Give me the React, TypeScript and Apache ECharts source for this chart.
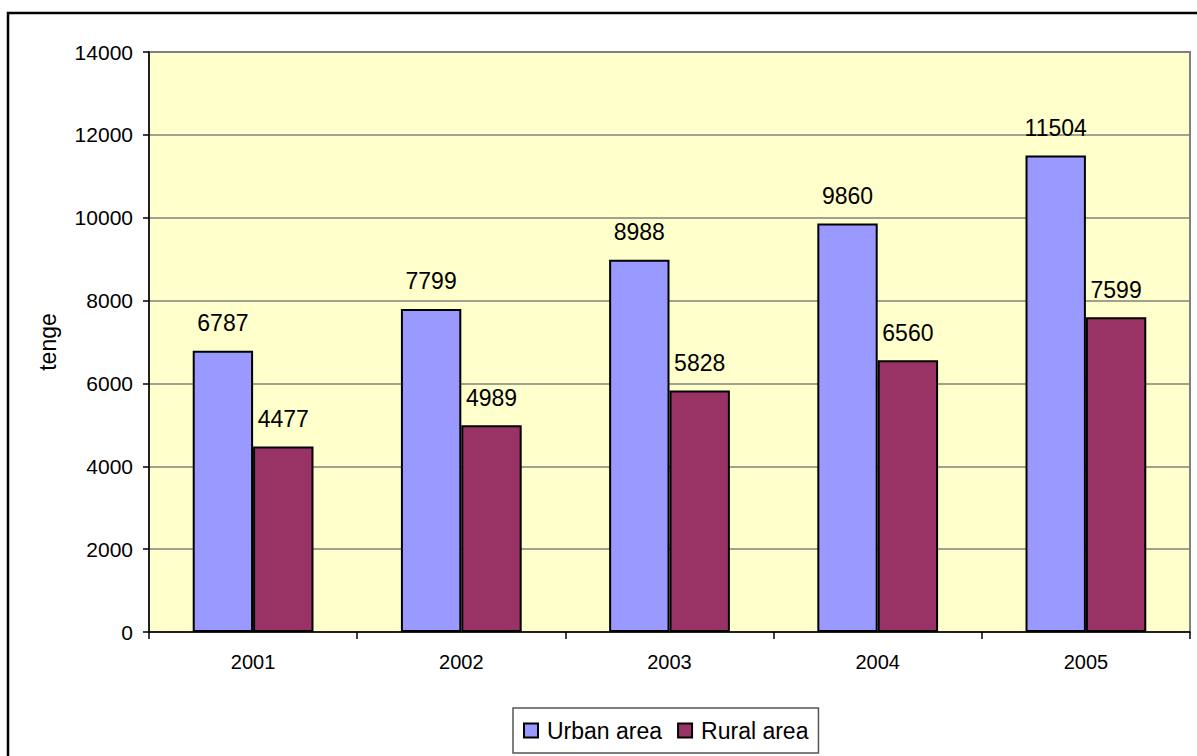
import React, { useEffect, useRef } from "react";
import * as echarts from "echarts";

const categories = ["2001", "2002", "2003", "2004", "2005"];
const urban = [6787, 7799, 8988, 9860, 11504];
const rural = [4477, 4989, 5828, 6560, 7599];
const seriesNames = ["Urban area", "Rural area"];
const yTicks = { min: 0, max: 14000, interval: 2000 };

const FONT = "'Liberation Sans', Arial, sans-serif";

export default function App() {
  const ref = useRef<HTMLDivElement>(null);
  useEffect(() => {
    if (!ref.current) return;
    const chart = echarts.init(ref.current, null, { renderer: "svg" });
    const labelStyle = {
      show: true,
      position: "top" as const,
      distance: 16,
      fontSize: 23,
      color: "#000",
      fontFamily: FONT,
    };
    chart.setOption({
      animation: false,
      backgroundColor: "#fff",
      textStyle: { fontFamily: FONT },
      graphic: [
        {
          type: "rect",
          shape: { x: 8, y: 13, width: 1260, height: 800 },
          style: { fill: "none", stroke: "#000", lineWidth: 2.5 },
          z: 100,
        },
      ],
      grid: {
        left: 149,
        right: 7,
        top: 52,
        bottom: 124,
        show: true,
        backgroundColor: "#FFFFCC",
        borderColor: "#808080",
        borderWidth: 2,
      },
      legend: {
        data: seriesNames,
        left: 513,
        top: 708,
        orient: "horizontal",
        padding: [11, 10, 11, 10],
        itemWidth: 14,
        itemHeight: 14,
        itemGap: 15,
        borderColor: "#555",
        borderWidth: 1.5,
        icon: "rect",
        textStyle: { fontSize: 23, color: "#000", fontFamily: FONT, padding: [0, 0, 0, 4] },
      },
      xAxis: {
        type: "category",
        data: categories,
        axisLine: { show: true, lineStyle: { color: "#000", width: 1.5 } },
        axisTick: { show: true, length: 7, lineStyle: { color: "#000", width: 1.5 } },
        axisLabel: { fontSize: 20, color: "#000", margin: 20, fontFamily: FONT },
        splitLine: { show: false },
      },
      yAxis: {
        type: "value",
        min: yTicks.min,
        max: yTicks.max,
        interval: yTicks.interval,
        name: "tenge",
        nameLocation: "middle",
        nameGap: 90,
        nameRotate: 90,
        nameTextStyle: { fontSize: 23, color: "#000", fontFamily: FONT },
        axisLine: { show: true, lineStyle: { color: "#000", width: 1.5 } },
        axisTick: { show: true, length: 6, lineStyle: { color: "#000", width: 1.5 } },
        axisLabel: {
          fontSize: 21,
          color: "#000",
          margin: 16,
          fontFamily: FONT,
          formatter: (v: number) => String(v),
        },
        splitLine: { show: true, lineStyle: { color: "#808080", width: 1.5 } },
      },
      series: [
        {
          name: seriesNames[0],
          type: "bar",
          data: urban,
          barGap: "0%",
          barCategoryGap: "42%",
          itemStyle: { color: "#9999FF", borderColor: "#000", borderWidth: 2 },
          label: labelStyle,
        },
        {
          name: seriesNames[1],
          type: "bar",
          data: rural,
          barGap: "0%",
          barCategoryGap: "42%",
          itemStyle: { color: "#993366", borderColor: "#000", borderWidth: 2 },
          label: labelStyle,
        },
      ],
    });
    return () => chart.dispose();
  }, []);
  return (
    <div
      ref={ref}
      style={{ position: "absolute", left: 0, top: 0, width: 1197, height: 756 }}
    />
  );
}
